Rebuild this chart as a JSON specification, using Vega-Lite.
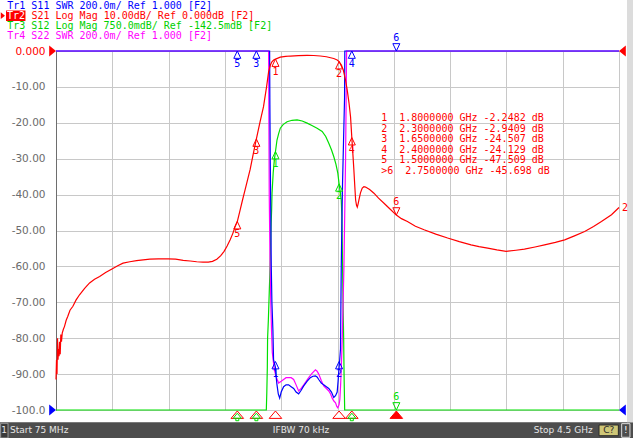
{
  "$schema": "https://vega.github.io/schema/vega-lite/v6.json",
  "autosize": {"type": "none"},
  "padding": {"left": 56, "top": 51, "right": 14, "bottom": 28},
  "width": 563,
  "height": 359,
  "background": "#ffffff",
  "config": {"view": {"stroke": "#6e6e6e"}},
  "datasets": {
    "one": [{}],
    "traces": [
      {"trace": "S12", "f": 0.075, "v": -100}, {"trace": "S12", "f": 1.728, "v": -100}, {"trace": "S12", "f": 1.732, "v": -95},
      {"trace": "S12", "f": 1.736, "v": -88}, {"trace": "S12", "f": 1.738, "v": -80}, {"trace": "S12", "f": 1.744, "v": -75},
      {"trace": "S12", "f": 1.749, "v": -69.5}, {"trace": "S12", "f": 1.754, "v": -64}, {"trace": "S12", "f": 1.759, "v": -58},
      {"trace": "S12", "f": 1.765, "v": -49}, {"trace": "S12", "f": 1.77, "v": -44}, {"trace": "S12", "f": 1.773, "v": -39.6},
      {"trace": "S12", "f": 1.782, "v": -34}, {"trace": "S12", "f": 1.791, "v": -30.4}, {"trace": "S12", "f": 1.8, "v": -28},
      {"trace": "S12", "f": 1.812, "v": -24.8}, {"trace": "S12", "f": 1.825, "v": -23}, {"trace": "S12", "f": 1.838, "v": -21.5},
      {"trace": "S12", "f": 1.86, "v": -20.5}, {"trace": "S12", "f": 1.891, "v": -19.7}, {"trace": "S12", "f": 1.93, "v": -19.3},
      {"trace": "S12", "f": 1.97, "v": -19.2}, {"trace": "S12", "f": 2.01, "v": -19.5}, {"trace": "S12", "f": 2.049, "v": -20.1},
      {"trace": "S12", "f": 2.09, "v": -20.8}, {"trace": "S12", "f": 2.127, "v": -21.5}, {"trace": "S12", "f": 2.167, "v": -22.4},
      {"trace": "S12", "f": 2.195, "v": -23.8}, {"trace": "S12", "f": 2.219, "v": -25.7}, {"trace": "S12", "f": 2.24, "v": -27.5},
      {"trace": "S12", "f": 2.258, "v": -29.4}, {"trace": "S12", "f": 2.275, "v": -31.5}, {"trace": "S12", "f": 2.29, "v": -34},
      {"trace": "S12", "f": 2.3, "v": -37}, {"trace": "S12", "f": 2.306, "v": -38.6}, {"trace": "S12", "f": 2.317, "v": -41.5},
      {"trace": "S12", "f": 2.322, "v": -46}, {"trace": "S12", "f": 2.325, "v": -53.5}, {"trace": "S12", "f": 2.331, "v": -70},
      {"trace": "S12", "f": 2.336, "v": -80}, {"trace": "S12", "f": 2.339, "v": -90}, {"trace": "S12", "f": 2.344, "v": -100},
      {"trace": "S12", "f": 4.5, "v": -100},

      {"trace": "S22", "f": 0.075, "v": 0}, {"trace": "S22", "f": 1.746, "v": 0}, {"trace": "S22", "f": 1.751, "v": -40},
      {"trace": "S22", "f": 1.757, "v": -58}, {"trace": "S22", "f": 1.763, "v": -70}, {"trace": "S22", "f": 1.769, "v": -78},
      {"trace": "S22", "f": 1.775, "v": -84}, {"trace": "S22", "f": 1.791, "v": -88.8}, {"trace": "S22", "f": 1.808, "v": -91},
      {"trace": "S22", "f": 1.825, "v": -92.5}, {"trace": "S22", "f": 1.845, "v": -92}, {"trace": "S22", "f": 1.864, "v": -91.5},
      {"trace": "S22", "f": 1.883, "v": -91}, {"trace": "S22", "f": 1.903, "v": -91}, {"trace": "S22", "f": 1.923, "v": -91},
      {"trace": "S22", "f": 1.943, "v": -91.5}, {"trace": "S22", "f": 1.962, "v": -93}, {"trace": "S22", "f": 1.982, "v": -94.7},
      {"trace": "S22", "f": 2.002, "v": -94}, {"trace": "S22", "f": 2.022, "v": -93}, {"trace": "S22", "f": 2.041, "v": -92},
      {"trace": "S22", "f": 2.061, "v": -91}, {"trace": "S22", "f": 2.087, "v": -89.8}, {"trace": "S22", "f": 2.114, "v": -88.8},
      {"trace": "S22", "f": 2.127, "v": -89.2}, {"trace": "S22", "f": 2.14, "v": -90}, {"trace": "S22", "f": 2.16, "v": -91.8},
      {"trace": "S22", "f": 2.179, "v": -93.3}, {"trace": "S22", "f": 2.2, "v": -94}, {"trace": "S22", "f": 2.219, "v": -94.7},
      {"trace": "S22", "f": 2.234, "v": -95.6}, {"trace": "S22", "f": 2.246, "v": -96.7}, {"trace": "S22", "f": 2.259, "v": -97.5},
      {"trace": "S22", "f": 2.272, "v": -98}, {"trace": "S22", "f": 2.282, "v": -99}, {"trace": "S22", "f": 2.29, "v": -99.4},
      {"trace": "S22", "f": 2.3, "v": -98.5}, {"trace": "S22", "f": 2.306, "v": -97}, {"trace": "S22", "f": 2.312, "v": -93},
      {"trace": "S22", "f": 2.317, "v": -88.8}, {"trace": "S22", "f": 2.325, "v": -80}, {"trace": "S22", "f": 2.338, "v": -60},
      {"trace": "S22", "f": 2.351, "v": -30}, {"trace": "S22", "f": 2.359, "v": 0}, {"trace": "S22", "f": 4.5, "v": 0},

      {"trace": "S11", "f": 0.075, "v": 0}, {"trace": "S11", "f": 1.754, "v": 0}, {"trace": "S11", "f": 1.756, "v": -15},
      {"trace": "S11", "f": 1.759, "v": -30}, {"trace": "S11", "f": 1.763, "v": -45}, {"trace": "S11", "f": 1.767, "v": -60},
      {"trace": "S11", "f": 1.772, "v": -70}, {"trace": "S11", "f": 1.78, "v": -78}, {"trace": "S11", "f": 1.785, "v": -86},
      {"trace": "S11", "f": 1.799, "v": -88}, {"trace": "S11", "f": 1.806, "v": -91}, {"trace": "S11", "f": 1.812, "v": -93},
      {"trace": "S11", "f": 1.822, "v": -95.5}, {"trace": "S11", "f": 1.833, "v": -96.7}, {"trace": "S11", "f": 1.845, "v": -95},
      {"trace": "S11", "f": 1.864, "v": -93.5}, {"trace": "S11", "f": 1.883, "v": -93}, {"trace": "S11", "f": 1.903, "v": -93},
      {"trace": "S11", "f": 1.923, "v": -93.5}, {"trace": "S11", "f": 1.943, "v": -94}, {"trace": "S11", "f": 1.962, "v": -95},
      {"trace": "S11", "f": 1.982, "v": -95.5}, {"trace": "S11", "f": 2.002, "v": -94.5}, {"trace": "S11", "f": 2.022, "v": -93.3},
      {"trace": "S11", "f": 2.048, "v": -92}, {"trace": "S11", "f": 2.074, "v": -91}, {"trace": "S11", "f": 2.094, "v": -90.6},
      {"trace": "S11", "f": 2.114, "v": -90.5}, {"trace": "S11", "f": 2.127, "v": -90.8}, {"trace": "S11", "f": 2.14, "v": -91.5},
      {"trace": "S11", "f": 2.16, "v": -92.5}, {"trace": "S11", "f": 2.179, "v": -93}, {"trace": "S11", "f": 2.2, "v": -93.5},
      {"trace": "S11", "f": 2.219, "v": -94}, {"trace": "S11", "f": 2.24, "v": -95}, {"trace": "S11", "f": 2.258, "v": -96.5},
      {"trace": "S11", "f": 2.272, "v": -96}, {"trace": "S11", "f": 2.285, "v": -95}, {"trace": "S11", "f": 2.292, "v": -92},
      {"trace": "S11", "f": 2.298, "v": -89}, {"trace": "S11", "f": 2.305, "v": -86}, {"trace": "S11", "f": 2.311, "v": -83},
      {"trace": "S11", "f": 2.317, "v": -60}, {"trace": "S11", "f": 2.322, "v": -48}, {"trace": "S11", "f": 2.327, "v": -37},
      {"trace": "S11", "f": 2.335, "v": -25}, {"trace": "S11", "f": 2.343, "v": -13}, {"trace": "S11", "f": 2.345, "v": 0},
      {"trace": "S11", "f": 4.5, "v": 0},

      {"trace": "S21", "f": 0.075, "v": -91.5}, {"trace": "S21", "f": 0.079, "v": -86}, {"trace": "S21", "f": 0.083, "v": -90},
      {"trace": "S21", "f": 0.087, "v": -80}, {"trace": "S21", "f": 0.091, "v": -86}, {"trace": "S21", "f": 0.095, "v": -83},
      {"trace": "S21", "f": 0.099, "v": -85}, {"trace": "S21", "f": 0.103, "v": -81}, {"trace": "S21", "f": 0.108, "v": -84.5},
      {"trace": "S21", "f": 0.113, "v": -79}, {"trace": "S21", "f": 0.118, "v": -81}, {"trace": "S21", "f": 0.124, "v": -78.6},
      {"trace": "S21", "f": 0.133, "v": -77.5}, {"trace": "S21", "f": 0.142, "v": -76.7}, {"trace": "S21", "f": 0.155, "v": -75},
      {"trace": "S21", "f": 0.168, "v": -73.9}, {"trace": "S21", "f": 0.185, "v": -72.2}, {"trace": "S21", "f": 0.208, "v": -71.1},
      {"trace": "S21", "f": 0.232, "v": -69.4}, {"trace": "S21", "f": 0.26, "v": -67.9}, {"trace": "S21", "f": 0.3, "v": -66.1},
      {"trace": "S21", "f": 0.339, "v": -64.6}, {"trace": "S21", "f": 0.378, "v": -63.6}, {"trace": "S21", "f": 0.418, "v": -62.8},
      {"trace": "S21", "f": 0.465, "v": -61.7}, {"trace": "S21", "f": 0.515, "v": -60.7}, {"trace": "S21", "f": 0.56, "v": -59.8},
      {"trace": "S21", "f": 0.602, "v": -59.1}, {"trace": "S21", "f": 0.655, "v": -58.7}, {"trace": "S21", "f": 0.708, "v": -58.4},
      {"trace": "S21", "f": 0.76, "v": -58.2}, {"trace": "S21", "f": 0.813, "v": -58}, {"trace": "S21", "f": 0.88, "v": -57.9},
      {"trace": "S21", "f": 0.957, "v": -57.9}, {"trace": "S21", "f": 1.015, "v": -58}, {"trace": "S21", "f": 1.075, "v": -58.3},
      {"trace": "S21", "f": 1.13, "v": -58.5}, {"trace": "S21", "f": 1.181, "v": -58.7}, {"trace": "S21", "f": 1.23, "v": -58.8},
      {"trace": "S21", "f": 1.272, "v": -58.8}, {"trace": "S21", "f": 1.305, "v": -58.6}, {"trace": "S21", "f": 1.339, "v": -58},
      {"trace": "S21", "f": 1.37, "v": -57}, {"trace": "S21", "f": 1.396, "v": -55.8}, {"trace": "S21", "f": 1.42, "v": -54.3},
      {"trace": "S21", "f": 1.444, "v": -52.6}, {"trace": "S21", "f": 1.465, "v": -50.8}, {"trace": "S21", "f": 1.483, "v": -48.9},
      {"trace": "S21", "f": 1.5, "v": -47.5}, {"trace": "S21", "f": 1.522, "v": -44.3}, {"trace": "S21", "f": 1.541, "v": -41.5},
      {"trace": "S21", "f": 1.561, "v": -38.7}, {"trace": "S21", "f": 1.581, "v": -35.8}, {"trace": "S21", "f": 1.601, "v": -33},
      {"trace": "S21", "f": 1.625, "v": -28.7}, {"trace": "S21", "f": 1.65, "v": -24.5}, {"trace": "S21", "f": 1.68, "v": -19.5},
      {"trace": "S21", "f": 1.706, "v": -15.5}, {"trace": "S21", "f": 1.73, "v": -10}, {"trace": "S21", "f": 1.746, "v": -5.8},
      {"trace": "S21", "f": 1.76, "v": -3.9}, {"trace": "S21", "f": 1.772, "v": -3}, {"trace": "S21", "f": 1.786, "v": -2.5},
      {"trace": "S21", "f": 1.8, "v": -2.25}, {"trace": "S21", "f": 1.838, "v": -1.7}, {"trace": "S21", "f": 1.88, "v": -1.5},
      {"trace": "S21", "f": 1.917, "v": -1.4}, {"trace": "S21", "f": 1.98, "v": -1.3}, {"trace": "S21", "f": 2.049, "v": -1.2},
      {"trace": "S21", "f": 2.1, "v": -1.25}, {"trace": "S21", "f": 2.153, "v": -1.4}, {"trace": "S21", "f": 2.2, "v": -1.6},
      {"trace": "S21", "f": 2.258, "v": -2.1}, {"trace": "S21", "f": 2.285, "v": -2.5}, {"trace": "S21", "f": 2.3, "v": -2.94},
      {"trace": "S21", "f": 2.318, "v": -3.9}, {"trace": "S21", "f": 2.333, "v": -5.3}, {"trace": "S21", "f": 2.35, "v": -8},
      {"trace": "S21", "f": 2.364, "v": -10.9}, {"trace": "S21", "f": 2.378, "v": -14.5}, {"trace": "S21", "f": 2.39, "v": -18.3},
      {"trace": "S21", "f": 2.4, "v": -24.1}, {"trace": "S21", "f": 2.408, "v": -28.5}, {"trace": "S21", "f": 2.416, "v": -33},
      {"trace": "S21", "f": 2.424, "v": -38}, {"trace": "S21", "f": 2.43, "v": -41.5}, {"trace": "S21", "f": 2.437, "v": -43},
      {"trace": "S21", "f": 2.443, "v": -43.5}, {"trace": "S21", "f": 2.45, "v": -42.5}, {"trace": "S21", "f": 2.456, "v": -41.5},
      {"trace": "S21", "f": 2.468, "v": -39.5}, {"trace": "S21", "f": 2.482, "v": -38.2}, {"trace": "S21", "f": 2.495, "v": -37.8},
      {"trace": "S21", "f": 2.508, "v": -37.9}, {"trace": "S21", "f": 2.54, "v": -38.6}, {"trace": "S21", "f": 2.574, "v": -39.6},
      {"trace": "S21", "f": 2.61, "v": -41}, {"trace": "S21", "f": 2.653, "v": -42.4}, {"trace": "S21", "f": 2.7, "v": -44},
      {"trace": "S21", "f": 2.75, "v": -45.7}, {"trace": "S21", "f": 2.79, "v": -46.7}, {"trace": "S21", "f": 2.837, "v": -47.5},
      {"trace": "S21", "f": 2.9, "v": -48.8}, {"trace": "S21", "f": 2.968, "v": -49.8}, {"trace": "S21", "f": 3.06, "v": -51},
      {"trace": "S21", "f": 3.153, "v": -52.1}, {"trace": "S21", "f": 3.245, "v": -53.1}, {"trace": "S21", "f": 3.337, "v": -54},
      {"trace": "S21", "f": 3.4, "v": -54.5}, {"trace": "S21", "f": 3.468, "v": -54.9}, {"trace": "S21", "f": 3.54, "v": -55.4},
      {"trace": "S21", "f": 3.613, "v": -55.8}, {"trace": "S21", "f": 3.69, "v": -55.5}, {"trace": "S21", "f": 3.757, "v": -55.2},
      {"trace": "S21", "f": 3.84, "v": -54.6}, {"trace": "S21", "f": 3.915, "v": -54}, {"trace": "S21", "f": 4.0, "v": -53.3},
      {"trace": "S21", "f": 4.073, "v": -52.6}, {"trace": "S21", "f": 4.15, "v": -51.5}, {"trace": "S21", "f": 4.23, "v": -50.3},
      {"trace": "S21", "f": 4.3, "v": -48.9}, {"trace": "S21", "f": 4.362, "v": -47.5}, {"trace": "S21", "f": 4.441, "v": -45.6},
      {"trace": "S21", "f": 4.5, "v": -43.6}
    ],
    "markers": [
      {"trace": "S21", "id": "1", "f": 1.8, "v": -2.248, "dir": "up"},
      {"trace": "S21", "id": "2", "f": 2.3, "v": -2.941, "dir": "up"},
      {"trace": "S21", "id": "3", "f": 1.65, "v": -24.507, "dir": "up"},
      {"trace": "S21", "id": "4", "f": 2.4, "v": -24.129, "dir": "up"},
      {"trace": "S21", "id": "5", "f": 1.5, "v": -47.509, "dir": "up"},
      {"trace": "S21", "id": "6", "f": 2.75, "v": -45.698, "dir": "down"},
      {"trace": "S11", "id": "5", "f": 1.5, "v": 0, "dir": "up"},
      {"trace": "S11", "id": "3", "f": 1.65, "v": 0, "dir": "up"},
      {"trace": "S11", "id": "4", "f": 2.4, "v": 0, "dir": "up"},
      {"trace": "S11", "id": "6", "f": 2.75, "v": 0, "dir": "down"},
      {"trace": "S11", "id": "1", "f": 1.8, "v": -86.5, "dir": "up"},
      {"trace": "S11", "id": "2", "f": 2.3, "v": -86.5, "dir": "up"},
      {"trace": "S12", "id": "1", "f": 1.8, "v": -28, "dir": "up"},
      {"trace": "S12", "id": "2", "f": 2.3, "v": -37, "dir": "up"},
      {"trace": "S12", "id": "6", "f": 2.75, "v": -100, "dir": "down"}
    ],
    "strip": [
      {"trace": "S21", "f": 1.5, "solid": "no"}, {"trace": "S21", "f": 1.65, "solid": "no"},
      {"trace": "S21", "f": 1.8, "solid": "no"}, {"trace": "S21", "f": 2.3, "solid": "no"},
      {"trace": "S21", "f": 2.4, "solid": "no"}, {"trace": "S21", "f": 2.75, "solid": "yes"},
      {"trace": "S12", "f": 1.5, "solid": "no"}, {"trace": "S12", "f": 1.65, "solid": "no"},
      {"trace": "S12", "f": 2.4, "solid": "no"}
    ],
    "refs": [
      {"trace": "S21", "side": "left", "f": 0.075, "v": 0},
      {"trace": "S11", "side": "left", "f": 0.075, "v": -100},
      {"trace": "S21", "side": "right", "f": 4.5, "v": 0},
      {"trace": "S11", "side": "right", "f": 4.5, "v": -100}
    ]
  },
  "layer": [
    {
      "data": {"name": "traces"},
      "mark": {"type": "line", "strokeWidth": 1.2, "clip": false},
      "encoding": {
        "x": {
          "field": "f", "type": "quantitative",
          "scale": {"domain": [0.075, 4.5], "nice": false, "zero": false},
          "axis": {
            "values": [0.075, 0.5175, 0.96, 1.4025, 1.845, 2.2875, 2.73, 3.1725, 3.615, 4.0575, 4.5],
            "tickCount": 40,
            "labels": false, "ticks": false, "domain": false, "title": null,
            "grid": true, "gridColor": "#c8c8c8"
          }
        },
        "y": {
          "field": "v", "type": "quantitative",
          "scale": {"domain": [-100, 0], "nice": false, "zero": false},
          "axis": {
            "values": [0, -10, -20, -30, -40, -50, -60, -70, -80, -90, -100],
            "tickCount": 40,
            "title": null, "ticks": false, "labelPadding": 11,
            "labelFont": "DejaVu Sans", "labelFontSize": 10.5,
            "labelColor": {"condition": {"test": "datum.value == 0", "value": "#ff0000"}, "value": "#6b6b6b"},
            "labelExpr": "datum.value == 0 ? '0.000' : datum.value == -100 ? '-100.0' : '-' + format(-datum.value, '.2f')",
            "labelOverlap": false, "labelFlush": false,
            "grid": true, "gridColor": "#c8c8c8", "domainColor": "#6e6e6e"
          }
        },
        "color": {
          "field": "trace", "type": "nominal",
          "scale": {"domain": ["S11", "S21", "S12", "S22"], "range": ["#0000ff", "#ff0000", "#00e000", "#ff00ff"]},
          "legend": null
        }
      }
    },
    {
      "data": {"name": "one"},
      "mark": {"type": "rect", "color": "#4d4d4d", "clip": false},
      "encoding": {
        "x": {"datum": -1, "type": "quantitative"},
        "x2": {"datum": 5},
        "y": {"datum": -103.4, "type": "quantitative"},
        "y2": {"datum": -108}
      }
    },
    {
      "data": {"name": "one"},
      "mark": {"type": "rect", "color": "#dcdcdc", "clip": false},
      "encoding": {
        "x": {"datum": 4.563, "type": "quantitative"},
        "x2": {"datum": 4.8},
        "y": {"datum": 16, "type": "quantitative"},
        "y2": {"datum": -103.4}
      }
    },
    {
      "data": {"name": "markers"},
      "mark": {"type": "point", "filled": false, "size": 196, "strokeWidth": 1, "opacity": 1, "clip": false},
      "encoding": {
        "x": {"field": "f", "type": "quantitative"},
        "y": {"field": "v", "type": "quantitative"},
        "shape": {
          "field": "dir", "type": "nominal",
          "scale": {"domain": ["up", "down"], "range": ["M0,0L-0.5,1.05L0.5,1.05Z", "M0,0L-0.5,-1.05L0.5,-1.05Z"]},
          "legend": null
        },
        "color": {"field": "trace", "type": "nominal", "legend": null}
      }
    },
    {
      "data": {"name": "markers"},
      "transform": [{"filter": "datum.dir == 'up'"}],
      "mark": {"type": "text", "font": "DejaVu Sans Mono", "fontSize": 10, "dy": 12.5, "align": "center", "baseline": "middle", "clip": false},
      "encoding": {
        "x": {"field": "f", "type": "quantitative"},
        "y": {"field": "v", "type": "quantitative"},
        "text": {"field": "id"},
        "color": {"field": "trace", "type": "nominal", "legend": null}
      }
    },
    {
      "data": {"name": "markers"},
      "transform": [{"filter": "datum.dir == 'down'"}],
      "mark": {"type": "text", "font": "DejaVu Sans Mono", "fontSize": 10, "dy": -13, "align": "center", "baseline": "middle", "clip": false},
      "encoding": {
        "x": {"field": "f", "type": "quantitative"},
        "y": {"field": "v", "type": "quantitative"},
        "text": {"field": "id"},
        "color": {"field": "trace", "type": "nominal", "legend": null}
      }
    },
    {
      "data": {"name": "strip"},
      "transform": [{"filter": "datum.trace == 'S21'"}],
      "mark": {"type": "point", "filled": true, "size": 219, "strokeWidth": 1, "opacity": 1, "stroke": "#ff0000", "shape": "M0,0L-0.85,1L0.85,1Z", "clip": false},
      "encoding": {
        "x": {"field": "f", "type": "quantitative"},
        "y": {"datum": -100.28, "type": "quantitative"},
        "fill": {
          "field": "solid", "type": "nominal",
          "scale": {"domain": ["no", "yes"], "range": ["rgba(0,0,0,0)", "#ff0000"]},
          "legend": null
        }
      }
    },
    {
      "data": {"name": "strip"},
      "transform": [{"filter": "datum.trace == 'S12'"}],
      "mark": {"type": "point", "filled": false, "size": 100, "strokeWidth": 1, "opacity": 1, "color": "#00e000", "shape": "M0,0L-0.8,1L0.8,1ZM-0.3,1L-0.3,1.5L0.3,1.5L0.3,1", "clip": false},
      "encoding": {
        "x": {"field": "f", "type": "quantitative"},
        "y": {"datum": -100.9, "type": "quantitative"}
      }
    },
    {
      "data": {"name": "refs"},
      "transform": [{"filter": "datum.side == 'left'"}],
      "mark": {"type": "point", "filled": true, "size": 169, "opacity": 1, "shape": "M0,0L-1.05,-0.85L-1.05,0.85Z", "clip": false},
      "encoding": {
        "x": {"field": "f", "type": "quantitative"},
        "y": {"field": "v", "type": "quantitative"},
        "color": {"field": "trace", "type": "nominal", "legend": null}
      }
    },
    {
      "data": {"name": "refs"},
      "transform": [{"filter": "datum.side == 'right'"}],
      "mark": {"type": "point", "filled": true, "size": 169, "opacity": 1, "shape": "M0,0L1.05,-0.85L1.05,0.85Z", "clip": false},
      "encoding": {
        "x": {"field": "f", "type": "quantitative"},
        "y": {"field": "v", "type": "quantitative"},
        "color": {"field": "trace", "type": "nominal", "legend": null}
      }
    },
    {
      "data": {"name": "one"},
      "mark": {"type": "text", "font": "DejaVu Sans Mono", "fontSize": 10, "align": "left", "baseline": "middle", "dx": 3, "color": "#ff0000", "clip": false},
      "encoding": {
        "x": {"datum": 4.5, "type": "quantitative"},
        "y": {"datum": -43.8, "type": "quantitative"},
        "text": {"value": "2"}
      }
    },
    {
      "data": {"name": "one"},
      "mark": {"type": "text", "font": "DejaVu Sans Mono", "fontSize": 10, "align": "left", "baseline": "top", "lineHeight": 10.6, "color": "#ff0000", "clip": false},
      "encoding": {
        "x": {"datum": 2.631, "type": "quantitative"},
        "y": {"datum": -17.27, "type": "quantitative"},
        "text": {"value": [
          "\u00a01\u00a0\u00a01.8000000\u00a0GHz\u00a0-2.2482\u00a0dB",
          "\u00a02\u00a0\u00a02.3000000\u00a0GHz\u00a0-2.9409\u00a0dB",
          "\u00a03\u00a0\u00a01.6500000\u00a0GHz\u00a0-24.507\u00a0dB",
          "\u00a04\u00a0\u00a02.4000000\u00a0GHz\u00a0-24.129\u00a0dB",
          "\u00a05\u00a0\u00a01.5000000\u00a0GHz\u00a0-47.509\u00a0dB",
          ">6\u00a0\u00a02.7500000\u00a0GHz\u00a0-45.698\u00a0dB"
        ]}
      }
    },
    {
      "data": {"name": "one"},
      "mark": {"type": "text", "font": "DejaVu Sans Mono", "fontSize": 10, "align": "left", "baseline": "middle", "color": "#0000ff", "clip": false},
      "encoding": {
        "x": {"datum": -0.308, "type": "quantitative"},
        "y": {"datum": 12.62, "type": "quantitative"},
        "text": {"value": "Tr1 S11 SWR 200.0m/ Ref 1.000 [F2]"}
      }
    },
    {
      "data": {"name": "one"},
      "mark": {"type": "rect", "color": "#ff0000", "clip": false},
      "encoding": {
        "x": {"datum": -0.318, "type": "quantitative"},
        "x2": {"datum": -0.165},
        "y": {"datum": 11.28, "type": "quantitative"},
        "y2": {"datum": 8.36}
      }
    },
    {
      "data": {"name": "one"},
      "mark": {"type": "point", "filled": true, "size": 64, "opacity": 1, "color": "#ff0000", "shape": "M0,0L-1.05,-0.85L-1.05,0.85Z", "clip": false},
      "encoding": {
        "x": {"datum": -0.326, "type": "quantitative"},
        "y": {"datum": 9.83, "type": "quantitative"}
      }
    },
    {
      "data": {"name": "one"},
      "mark": {"type": "text", "font": "DejaVu Sans Mono", "fontSize": 10, "align": "left", "baseline": "middle", "color": "#ffffff", "clip": false},
      "encoding": {
        "x": {"datum": -0.31, "type": "quantitative"},
        "y": {"datum": 9.83, "type": "quantitative"},
        "text": {"value": "Tr2"}
      }
    },
    {
      "data": {"name": "one"},
      "mark": {"type": "text", "font": "DejaVu Sans Mono", "fontSize": 10, "align": "left", "baseline": "middle", "color": "#ff0000", "clip": false},
      "encoding": {
        "x": {"datum": -0.118, "type": "quantitative"},
        "y": {"datum": 9.83, "type": "quantitative"},
        "text": {"value": "S21 Log Mag 10.00dB/ Ref 0.000dB [F2]"}
      }
    },
    {
      "data": {"name": "one"},
      "mark": {"type": "text", "font": "DejaVu Sans Mono", "fontSize": 10, "align": "left", "baseline": "middle", "color": "#00d000", "clip": false},
      "encoding": {
        "x": {"datum": -0.308, "type": "quantitative"},
        "y": {"datum": 6.96, "type": "quantitative"},
        "text": {"value": "Tr3 S12 Log Mag 750.0mdB/ Ref -142.5mdB [F2]"}
      }
    },
    {
      "data": {"name": "one"},
      "mark": {"type": "text", "font": "DejaVu Sans Mono", "fontSize": 10, "align": "left", "baseline": "middle", "color": "#ff00ff", "clip": false},
      "encoding": {
        "x": {"datum": -0.308, "type": "quantitative"},
        "y": {"datum": 4.26, "type": "quantitative"},
        "text": {"value": "Tr4 S22 SWR 200.0m/ Ref 1.000 [F2]"}
      }
    },
    {
      "data": {"name": "one"},
      "mark": {"type": "rect", "fill": "#3a3a3a", "stroke": "#9a9a9a", "strokeWidth": 1, "clip": false},
      "encoding": {
        "x": {"datum": -0.36, "type": "quantitative"},
        "x2": {"datum": -0.302},
        "y": {"datum": -103.7, "type": "quantitative"},
        "y2": {"datum": -107.8}
      }
    },
    {
      "data": {"name": "one"},
      "mark": {"type": "rect", "fill": "#cfc777", "stroke": "#2a2a2a", "strokeWidth": 1, "clip": false},
      "encoding": {
        "x": {"datum": 4.343, "type": "quantitative"},
        "x2": {"datum": 4.495},
        "y": {"datum": -104.18, "type": "quantitative"},
        "y2": {"datum": -107.16}
      }
    },
    {
      "data": {"name": "one"},
      "mark": {"type": "rect", "fill": "#4d4d4d", "stroke": "#dddddd", "strokeWidth": 1, "clip": false},
      "encoding": {
        "x": {"datum": 4.521, "type": "quantitative"},
        "x2": {"datum": 4.586},
        "y": {"datum": -103.8, "type": "quantitative"},
        "y2": {"datum": -107.6}
      }
    },
    {
      "data": {"name": "one"},
      "mark": {"type": "text", "font": "DejaVu Sans", "fontSize": 9, "align": "center", "baseline": "middle", "color": "#e6e6e6", "clip": false},
      "encoding": {
        "x": {"datum": -0.333, "type": "quantitative"},
        "y": {"datum": -105.6, "type": "quantitative"},
        "text": {"value": "1"}
      }
    },
    {
      "data": {"name": "one"},
      "mark": {"type": "text", "font": "DejaVu Sans", "fontSize": 9, "align": "left", "baseline": "middle", "color": "#e6e6e6", "clip": false},
      "encoding": {
        "x": {"datum": -0.287, "type": "quantitative"},
        "y": {"datum": -105.6, "type": "quantitative"},
        "text": {"value": "Start 75 MHz"}
      }
    },
    {
      "data": {"name": "one"},
      "mark": {"type": "text", "font": "DejaVu Sans", "fontSize": 9, "align": "center", "baseline": "middle", "color": "#e6e6e6", "clip": false},
      "encoding": {
        "x": {"datum": 2.001, "type": "quantitative"},
        "y": {"datum": -105.6, "type": "quantitative"},
        "text": {"value": "IFBW 70 kHz"}
      }
    },
    {
      "data": {"name": "one"},
      "mark": {"type": "text", "font": "DejaVu Sans", "fontSize": 9, "align": "right", "baseline": "middle", "color": "#e6e6e6", "clip": false},
      "encoding": {
        "x": {"datum": 4.293, "type": "quantitative"},
        "y": {"datum": -105.6, "type": "quantitative"},
        "text": {"value": "Stop 4.5 GHz"}
      }
    },
    {
      "data": {"name": "one"},
      "mark": {"type": "text", "font": "DejaVu Sans", "fontSize": 9, "align": "center", "baseline": "middle", "color": "#2a2a2a", "clip": false},
      "encoding": {
        "x": {"datum": 4.419, "type": "quantitative"},
        "y": {"datum": -105.6, "type": "quantitative"},
        "text": {"value": "C?"}
      }
    },
    {
      "data": {"name": "one"},
      "mark": {"type": "text", "font": "DejaVu Sans", "fontSize": 9, "align": "center", "baseline": "middle", "color": "#ffffff", "clip": false},
      "encoding": {
        "x": {"datum": 4.554, "type": "quantitative"},
        "y": {"datum": -105.6, "type": "quantitative"},
        "text": {"value": "!"}
      }
    }
  ]
}
